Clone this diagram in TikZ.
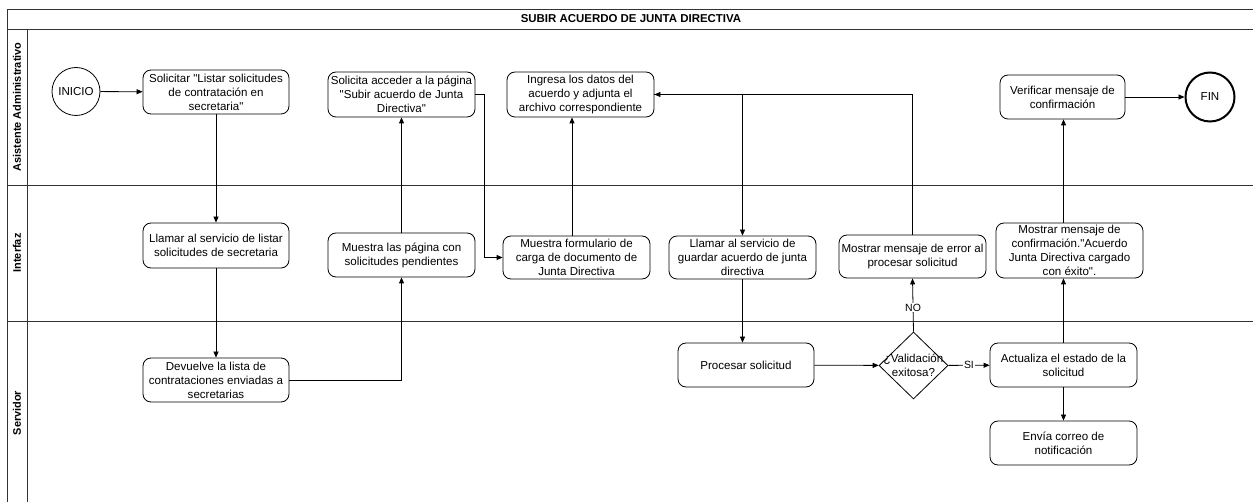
\documentclass[tikz,border=0pt]{standalone}
\usepackage{fontspec}
\setmainfont{Liberation Sans}[Ligatures=TeXOff]
\usetikzlibrary{arrows.meta,shapes.geometric}
\begin{document}
\begin{tikzpicture}[x=1bp,y=-1bp,
  every node/.style={font=\fontsize{11.6}{14}\selectfont},
  task/.style 2 args={draw, rounded corners=8bp, align=center, inner sep=0pt,
    line width=0.8bp, minimum width=#1bp, minimum height=#2bp},
  flow/.style={draw, line width=0.8bp, -{Triangle[length=6bp,width=5bp]}},
  grid/.style={draw=black!80, line width=0.9bp},
  lanetitle/.style={rotate=90, font=\fontsize{11}{13}\selectfont\bfseries},
  guard/.style={fill=white, inner sep=1bp, font=\fontsize{10.5}{12}\selectfont},
]
\useasboundingbox (0,0) rectangle (1253,502);
\fill[white] (0,0) rectangle (1253,502);

% pool frame and lanes
\begin{scope}
  \clip (0,0) rectangle (1253,502);
  \draw[grid] (7,520) -- (7,9) -- (1270,9);
  \draw[grid] (7,29) -- (1270,29);
  \draw[grid] (27,29) -- (27,520);
  \draw[grid] (7,185) -- (1270,185);
  \draw[grid] (7,321) -- (1270,321);
\end{scope}
\node[font=\fontsize{11.5}{13}\selectfont\bfseries] (title) at (631,19) {SUBIR ACUERDO DE JUNTA DIRECTIVA};
\node[lanetitle] (laneA) at (17,107) {Asistente Administrativo};
\node[lanetitle] (laneI) at (17,253) {Interfaz};
\node[lanetitle] (laneS) at (17,413) {Servidor};

% Asistente Administrativo
\node[circle, draw, line width=0.8bp, minimum size=48bp, inner sep=0pt] (ini) at (76,91.5) {INICIO};
\node[task={146}{44}] (sol) at (216,92) {Solicitar "Listar solicitudes\\de contratación en\\secretaria"};
\node[task={147}{45}] (acc) at (401.5,94.5) {Solicita acceder a la página\\"Subir acuerdo de Junta\\Directiva"};
\node[task={147}{45}] (ing) at (580.5,94.5) {Ingresa los datos del\\acuerdo y adjunta el\\archivo correspondiente};
\node[task={125}{44}] (ver) at (1062.5,97) {Verificar mensaje de\\confirmación};
\node[circle, draw, line width=2bp, minimum size=49bp, inner sep=0pt] (fin) at (1210,97) {FIN};

% Interfaz
\node[task={146}{45}] (llis) at (216,245.5) {Llamar al servicio de listar\\solicitudes de secretaria};
\node[task={147}{44}] (mpag) at (401.5,255) {Muestra las página con\\solicitudes pendientes};
\node[task={147}{43}] (mfor) at (576.5,257.5) {Muestra formulario de\\carga de documento de\\Junta Directiva};
\node[task={147}{43}] (lgua) at (742.5,257.5) {Llamar al servicio de\\guardar acuerdo de junta\\directiva};
\node[task={147}{43}] (merr) at (912.5,256.5) {Mostrar mensaje de error al\\procesar solicitud};
\node[task={147}{55}] (mcon) at (1069.5,250.5) {Mostrar mensaje de\\confirmación."Acuerdo\\Junta Directiva cargado\\con éxito".};

% Servidor
\node[task={146}{44}] (dev) at (216,380) {Devuelve la lista de\\contrataciones enviadas a\\secretarias};
\node[task={136}{44}] (proc) at (746,365) {Procesar solicitud};
\node[diamond, draw, line width=0.8bp, minimum width=69bp, minimum height=67bp, inner sep=0pt] (val) at (913.5,365.5) {};
\node[align=center, inner sep=0pt] (valtxt) at (val.center) {¿Validación\\exitosa?};
\node[task={147}{44}] (act) at (1063.5,365) {Actualiza el estado de la\\solicitud};
\node[task={147}{44}] (env) at (1063.5,443) {Envía correo de\\notificación};

% flow
\coordinate (upx) at (572,0);
\draw[flow] (ini) -- (sol);
\draw[flow] (sol) -- (llis);
\draw[flow] (llis) -- (dev);
\draw[flow] (dev.east) -| (mpag.south);
\draw[flow] (mpag) -- (acc);
\draw[flow] (acc.east) -- ++(9,0) |- (mfor.west);
\draw[flow] (mfor.north -| upx) -- (ing.south -| upx);
\draw[flow] (ing.east) -| (lgua.north);
\draw[flow] (lgua.south) -- (lgua.south |- proc.north);
\draw[flow] (proc) -- (val);
\draw[flow] (val) -- node[guard] (si) {SI} (act);
\draw[flow] (val.north) -- node[guard, pos=0.45] (no) {NO} (merr.south);
\draw[flow] (merr.north) |- (ing.east);
\draw[flow] (act.north) -- (act.north |- mcon.south);
\draw[flow] (act.north |- mcon.north) -- (act.north |- ver.south);
\draw[flow] (ver) -- (fin);
\draw[flow] (act) -- (env);
\end{tikzpicture}
\end{document}
